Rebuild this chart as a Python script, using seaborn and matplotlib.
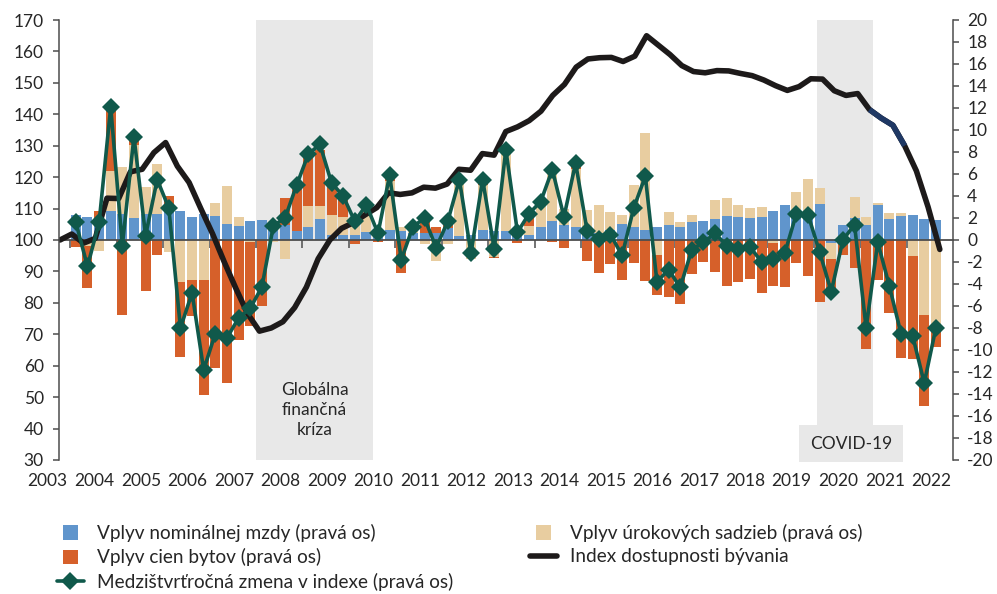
import numpy as np
import pandas as pd
import seaborn as sns
import matplotlib.pyplot as plt
import matplotlib.patches as mpatches
from matplotlib.legend_handler import HandlerPatch


# stvrtroky 2004Q1 - 2022Q3 (stlpce a medzistvrtrocna zmena, prava os)
quarters = pd.period_range('2004Q1', '2022Q3', freq='Q')
wage = [2.3, 2.1, 2.0, 2.6, 2.4, 2.0, 2.4, 2.4, 2.6, 2.6, 2.1, 2.4, 2.2, 1.45, 1.3, 1.7,
        1.8, 1.6, 1.35, 0.8, 1.15, 1.95, 0.5, 0.45, 0.45, 0.75, 0.8, 0.9, 0.8, 0.6, 0.6, 0.6,
        1.05, 0.35, 0.5, 0.9, 0.8, 0.85, 0.45, 0.45, 1.2, 1.7, 1.4, 1.2, 0.75, 0.6, 0.95, 1.5,
        1.15, 0.9, 1.2, 1.35, 1.2, 1.6, 1.75, 1.9, 2.2, 2.1, 2.0, 2.1, 2.6, 3.2, 2.3, 2.6,
        3.3, -0.3, 1.4, 2.0, 1.35, 3.2, 1.9, 2.2, 2.25, 1.95, 1.8]
rates = [0.0, -0.5, -1.0, 3.7, 4.2, 6.6, 2.4, 4.5, -1.05, -3.85, -3.6, -3.6, 1.2, 3.45, 0.8, -0.2,
         0.0, -0.2, -1.75, 0.0, 1.9, 1.15, 1.8, 1.65, 1.65, 2.4, 0.0, 4.5, 0.4, 0.6, -0.4, -1.9,
         -0.4, 4.8, -1.7, 4.1, -1.5, 7.35, 0.5, 0.8, 2.1, 4.7, 1.4, 5.3, 1.95, 2.6, 1.6, 0.8,
         3.85, 8.8, -1.4, 1.15, 0.4, 0.7, 0.0, 1.7, 1.6, 1.1, 0.9, 0.9, -0.25, -0.1, 2.1, 2.9,
         1.4, -1.4, 0.0, 1.9, 0.75, 0.2, 0.6, 0.3, -1.45, -6.8, -8.0]
prices = [-0.6, -3.9, 0.6, 5.4, -6.8, 0.6, -4.6, -1.4, 1.4, -6.75, -3.3, -10.5, -11.6, -13.0, -9.1, -7.6,
          -6.0, 0.0, 2.5, 4.55, 4.6, 5.1, 3.2, 1.8, -0.35, 0.0, -0.2, 0.5, -3.0, 0.0, 1.7, 0.6,
          1.05, 0.45, 0.0, 0.45, -0.1, 0.0, -0.3, 1.15, 0.2, -0.2, -0.7, 0.5, -1.95, -3.0, -2.2, -3.6,
          -2.05, -3.7, -3.6, -5.2, -5.8, -3.1, -1.97, -2.94, -4.2, -3.85, -3.5, -4.85, -3.95, -4.2, -2.06, -3.3,
          -5.6, -3.0, -1.4, -2.5, -9.9, -3.6, -6.6, -10.75, -9.4, -8.3, -1.76]
yoy_change = [1.6, -2.4, 1.6, 12.1, -0.5, 9.4, 0.4, 5.5, 2.9, -8.0, -4.8, -11.8, -8.5, -8.9, -7.1, -6.2,
              -4.3, 1.3, 2.0, 5.0, 7.8, 8.7, 5.2, 4.0, 1.7, 3.2, 0.6, 5.9, -1.8, 1.2, 2.0, -0.7,
              1.7, 5.5, -1.2, 5.5, -0.8, 8.2, 0.7, 2.4, 3.5, 6.4, 2.1, 7.0, 0.8, 0.1, 0.5, -1.4,
              2.9, 5.8, -3.8, -2.7, -4.3, -0.9, -0.2, 0.6, -0.5, -0.8, -0.6, -2.0, -1.7, -1.2, 2.4, 2.3,
              -1.1, -4.7, 0.0, 1.4, -8.0, -0.2, -4.2, -8.5, -8.7, -13.0, -8.0]

# index dostupnosti byvania 2003Q4 - 2022Q3 (lava os)
index_quarters = pd.period_range('2003Q4', '2022Q3', freq='Q')
affordability = [100, 101.9, 99.0, 100.5, 113.3, 113.2, 121.7, 122.5, 127.8, 131, 123.5, 118.3,
                 110, 102, 93, 84.5, 76.5, 71, 72, 74, 78.5, 85, 94, 100,
                 103.7, 105.5, 108, 110.3, 115, 114.5, 115, 116.8, 116.5, 117.8, 122.5, 122.2,
                 127.5, 127, 134.5, 136, 138, 141, 146, 149.5, 155, 157.6, 158, 158.1,
                 156.8, 158.5, 165, 162, 159, 155.5, 153.6, 153.2, 153.9, 153.8, 153, 152.3,
                 150.9, 149.1, 147.6, 148.8, 151.3, 151.2, 147.5, 146, 146.6, 141.5, 138.8, 136.5,
                 130, 122, 110.5, 97]

years = list(range(2003, 2023))
left_ticks = list(range(30, 171, 10))
right_ticks = list(range(-20, 21, 2))

labels = ['Vplyv nominálnej mzdy (pravá os)', 'Vplyv cien bytov (pravá os)',
          'Medzištvrťročná zmena v indexe (pravá os)', 'Vplyv úrokových sadzieb (pravá os)',
          'Index dostupnosti bývania']

c_blue = '#6095cc'
c_orange = '#d6602a'
c_beige = '#e8cda0'
c_green = '#10594b'
c_black = '#1d1a1a'
c_navy = '#1f3864'
c_shade = '#e8e8e8'
c_axis = '#4d4d4d'
c_text = '#262626'

df = pd.DataFrame({'q': quarters, 'wage': wage, 'rates': rates, 'prices': prices, 'yoy': yoy_change})
df['x'] = np.arange(1, len(df) + 1)
idx = pd.DataFrame({'q': index_quarters, 'value': affordability})
# ciara indexu je v originali trochu posunuta oproti stlpcom
idx['x'] = np.linspace(-0.36, 75.34, len(idx))

sns.set_theme(style='white')
plt.rcParams['font.family'] = ['Lato', 'DejaVu Sans']
plt.rcParams['axes.unicode_minus'] = False
fs = 12.5

fig = plt.figure(figsize=(9.97, 5.94), dpi=100)
ax = fig.add_axes([59 / 997, 1 - 460 / 594, (953.3 - 59) / 997, 440 / 594])
ax2 = ax.twinx()   # lava os - index
ax3 = ax.twinx()   # prava os - zelena ciara navrchu

ax.axvspan(16.5, 26.6, color=c_shade, zorder=0, lw=0)
ax.axvspan(64.75, 69.55, color=c_shade, zorder=0, lw=0)

# stlpce - kladne a zaporne zvlast
pos = np.zeros(len(df))
neg = np.zeros(len(df))
bars = {}
for name, col in [('wage', c_blue), ('rates', c_beige), ('prices', c_orange)]:
    v = df[name].to_numpy()
    bottom = np.where(v >= 0, pos, neg)
    bars[name] = ax.bar(df['x'], v, bottom=bottom, width=0.86, color=col, linewidth=0, zorder=2)
    pos += np.clip(v, 0, None)
    neg += np.clip(v, None, 0)

sns.lineplot(data=idx, x='x', y='value', ax=ax2, color=c_black, linewidth=4,
             solid_capstyle='round')
black_line = ax2.lines[-1]
sns.lineplot(data=idx.iloc[69:73], x='x', y='value', ax=ax2, color=c_navy, linewidth=4,
             solid_capstyle='butt')
sns.lineplot(data=df, x='x', y='yoy', ax=ax3, color=c_green, linewidth=2.6, marker='D',
             markersize=9, markeredgewidth=0)
green_line = ax3.lines[-1]

ax.set_xlim(-0.45, 76.5)
ax.set_ylim(-20, 20)
ax3.set_ylim(-20, 20)
ax2.set_ylim(30, 170)
for a in (ax, ax2, ax3):
    a.set_xlabel('')
    a.set_ylabel('')

# prava os
ax.yaxis.tick_right()
ax.set_yticks(right_ticks)
ax.tick_params(axis='y', right=True, left=False, labelright=True, labelleft=False, length=4,
               width=1.1, color=c_axis, pad=6, labelsize=fs, labelcolor=c_text)
# lava os
ax2.yaxis.tick_left()
ax2.set_yticks(left_ticks)
ax2.tick_params(axis='y', left=True, right=False, labelleft=True, labelright=False, length=4,
                width=1.1, color=c_axis, pad=7, labelsize=fs, labelcolor=c_text)
ax3.yaxis.set_visible(False)

# x os: ciarky na nulovej linii, roky dole
ax.set_xticks([0.5 + 4 * i for i in range(19)])
ax.set_xticks([2.6 + 4 * i for i in range(19)], labels=[str(y) for y in years[1:]], minor=True)
ax.tick_params(axis='x', which='major', bottom=True, direction='out', length=6, width=1.1,
               color=c_axis, labelbottom=False)
ax.tick_params(axis='x', which='minor', bottom=False, length=0, labelbottom=False)
ax2.xaxis.set_visible(True)
ax2.tick_params(axis='x', which='major', bottom=False, length=0, labelbottom=False)
ax2.tick_params(axis='x', which='minor', bottom=False, length=0, labelbottom=True, pad=9,
                labelsize=fs, labelcolor=c_text)
ax2.annotate(str(years[0]), xy=(-1.5, 0), xycoords=('data', 'axes fraction'), xytext=(0, -9),
             textcoords='offset points', ha='center', va='top', fontsize=fs, color=c_text,
             annotation_clip=False)

for s in ['top', 'left']:
    ax.spines[s].set_visible(False)
ax.spines['right'].set_color(c_axis)
ax.spines['right'].set_linewidth(1.1)
ax.spines['bottom'].set_position(('data', 0))
ax.spines['bottom'].set_color(c_axis)
ax.spines['bottom'].set_linewidth(1.3)
ax.spines['bottom'].set_zorder(3)
for s in ['top', 'right', 'bottom']:
    ax2.spines[s].set_visible(False)
ax2.spines['left'].set_color(c_axis)
ax2.spines['left'].set_linewidth(1.1)
for s in ax3.spines.values():
    s.set_visible(False)

ax2.text(21.55, 45.9, 'Globálna\nfinančná\nkríza', ha='center', va='center', fontsize=fs,
         color=c_text, linespacing=1.3)
ax2.text(67.7, 0.037, 'COVID-19', transform=ax2.get_xaxis_transform(), ha='center', va='center',
         fontsize=fs, color=c_text,
         bbox=dict(boxstyle='square,pad=0.6', facecolor=c_shade, edgecolor='none'))


def square_patch(legend, orig_handle, xdescent, ydescent, width, height, fontsize):
    w = 0.82 * fontsize
    h = 0.75 * fontsize
    return mpatches.Rectangle((-xdescent + (width - w) / 2, -ydescent + (height - h) / 2), w, h)


hmap = {mpatches.Rectangle: HandlerPatch(patch_func=square_patch)}
leg_kw = dict(frameon=False, fontsize=13.7, handlelength=1.4, handletextpad=0.72, borderpad=0,
              borderaxespad=0, labelspacing=0.33, loc='upper left', labelcolor=c_text)
fig.legend([bars['wage'].patches[0], bars['prices'].patches[0], green_line], labels[:3],
           bbox_to_anchor=(57 / 997, 1 - 524 / 594), handler_map=hmap, **leg_kw)
fig.legend([bars['rates'].patches[0], black_line], labels[3:],
           bbox_to_anchor=(530 / 997, 1 - 524 / 594), handler_map=hmap, **leg_kw)

fig.savefig('out.png', dpi=100)
